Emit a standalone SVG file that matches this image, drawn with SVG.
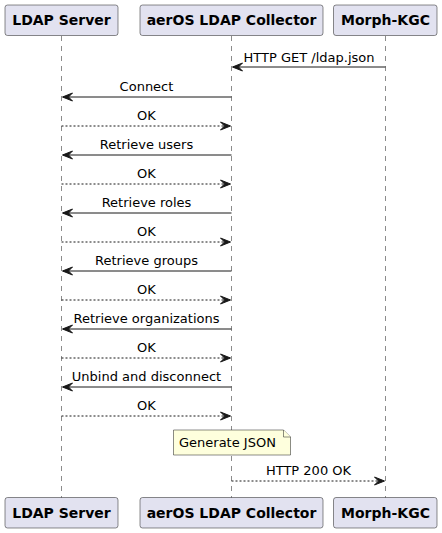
<svg xmlns="http://www.w3.org/2000/svg" width="442" height="533" viewBox="0 0 442 533">
<defs>
<style>
.p{fill:#E2E2F0;stroke:#181818;stroke-width:0.5}
.pt{font-family:"DejaVu Sans",sans-serif;font-size:14px;font-weight:bold;fill:#000;text-anchor:middle}
.life{stroke:#181818;stroke-width:0.5;stroke-dasharray:5,5;fill:none}
.m{stroke:#181818;stroke-width:1;fill:none}
.r{stroke:#181818;stroke-width:1;fill:none;stroke-dasharray:2,2}
.t{font-family:"DejaVu Sans",sans-serif;font-size:13px;fill:#000;text-anchor:middle}
.ah{fill:#181818;stroke:#181818;stroke-width:1}
</style>
</defs>
<rect width="442" height="533" fill="#FFFFFF"/>
<g id="lifelines">
<line class="life" x1="61.5" y1="36" x2="61.5" y2="498"/>
<line class="life" x1="231.5" y1="36" x2="231.5" y2="498"/>
<line class="life" x1="385.5" y1="36" x2="385.5" y2="498"/>
</g>
<g id="ldap-server">
<rect class="p" x="5" y="5" width="113" height="30.5" rx="2.5"/>
<text class="pt" x="61.5" y="25">LDAP Server</text>
<rect class="p" x="5" y="497.5" width="113" height="30.5" rx="2.5"/>
<text class="pt" x="61.5" y="518">LDAP Server</text>
</g>
<g id="collector">
<rect class="p" x="140" y="5" width="183" height="30.5" rx="2.5"/>
<text class="pt" x="231.5" y="25">aerOS LDAP Collector</text>
<rect class="p" x="140" y="497.5" width="183" height="30.5" rx="2.5"/>
<text class="pt" x="231.5" y="518">aerOS LDAP Collector</text>
</g>
<g id="morph-kgc">
<rect class="p" x="333.5" y="5" width="103.5" height="30.5" rx="2.5"/>
<text class="pt" x="385.5" y="25">Morph-KGC</text>
<rect class="p" x="333.5" y="497.5" width="103.5" height="30.5" rx="2.5"/>
<text class="pt" x="385.5" y="518">Morph-KGC</text>
</g>
<g id="note">
<path d="M173.5,430 L283.5,430 L290.5,437 L290.5,455 L173.5,455 Z" fill="#FEFFDD" stroke="#181818" stroke-width="0.5"/>
<path d="M283.5,430 L283.5,437 L290.5,437" fill="#FEFFDD" stroke="#181818" stroke-width="0.5"/>
<text font-family="DejaVu Sans, sans-serif" font-size="13" x="179" y="447">Generate JSON</text>
</g>
<g id="connectors">
<line class="m" x1="385.5" y1="67" x2="233" y2="67"/>
<polygon class="ah" points="232.5,67 242.5,63 238.5,67 242.5,71"/>
<text class="t" x="309" y="62">HTTP GET /ldap.json</text>

<line class="m" x1="231.5" y1="97" x2="63" y2="97"/>
<polygon class="ah" points="62.5,97 72.5,93 68.5,97 72.5,101"/>
<text class="t" x="146.5" y="91">Connect</text>

<line class="r" x1="61.5" y1="126" x2="229" y2="126"/>
<polygon class="ah" points="230.5,126 220.5,122 224.5,126 220.5,130"/>
<text class="t" x="146.5" y="120">OK</text>

<line class="m" x1="231.5" y1="155" x2="63" y2="155"/>
<polygon class="ah" points="62.5,155 72.5,151 68.5,155 72.5,159"/>
<text class="t" x="146.5" y="149">Retrieve users</text>

<line class="r" x1="61.5" y1="184" x2="229" y2="184"/>
<polygon class="ah" points="230.5,184 220.5,180 224.5,184 220.5,188"/>
<text class="t" x="146.5" y="178">OK</text>

<line class="m" x1="231.5" y1="213" x2="63" y2="213"/>
<polygon class="ah" points="62.5,213 72.5,209 68.5,213 72.5,217"/>
<text class="t" x="146.5" y="207">Retrieve roles</text>

<line class="r" x1="61.5" y1="242" x2="229" y2="242"/>
<polygon class="ah" points="230.5,242 220.5,238 224.5,242 220.5,246"/>
<text class="t" x="146.5" y="236">OK</text>

<line class="m" x1="231.5" y1="271" x2="63" y2="271"/>
<polygon class="ah" points="62.5,271 72.5,267 68.5,271 72.5,275"/>
<text class="t" x="146.5" y="265">Retrieve groups</text>

<line class="r" x1="61.5" y1="300" x2="229" y2="300"/>
<polygon class="ah" points="230.5,300 220.5,296 224.5,300 220.5,304"/>
<text class="t" x="146.5" y="294">OK</text>

<line class="m" x1="231.5" y1="329" x2="63" y2="329"/>
<polygon class="ah" points="62.5,329 72.5,325 68.5,329 72.5,333"/>
<text class="t" x="146.5" y="323">Retrieve organizations</text>

<line class="r" x1="61.5" y1="358" x2="229" y2="358"/>
<polygon class="ah" points="230.5,358 220.5,354 224.5,358 220.5,362"/>
<text class="t" x="146.5" y="352">OK</text>

<line class="m" x1="231.5" y1="387" x2="63" y2="387"/>
<polygon class="ah" points="62.5,387 72.5,383 68.5,387 72.5,391"/>
<text class="t" x="146.5" y="381">Unbind and disconnect</text>

<line class="r" x1="61.5" y1="416" x2="229" y2="416"/>
<polygon class="ah" points="230.5,416 220.5,412 224.5,416 220.5,420"/>
<text class="t" x="146.5" y="410">OK</text>

<line class="r" x1="231.5" y1="481" x2="383" y2="481"/>
<polygon class="ah" points="384.5,481 374.5,477 378.5,481 374.5,485"/>
<text class="t" x="308.5" y="475">HTTP 200 OK</text>
</g>
</svg>
